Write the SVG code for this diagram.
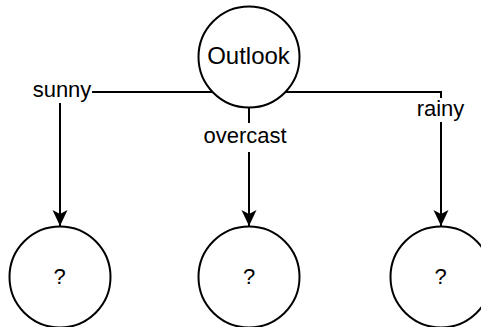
<svg xmlns="http://www.w3.org/2000/svg" width="481" height="327" viewBox="0 0 481 327">
  <style>
    .node circle { fill: #ffffff; stroke: #000000; stroke-width: 2; }
    .node text, .label { font-family: "Liberation Sans", Arial, sans-serif; font-size: 22px; fill: #000000; text-anchor: middle; }
    #node-outlook text { font-size: 24px; }
    .edge { fill: none; stroke: #000000; stroke-width: 2; }
  </style>
  <defs>
    <marker id="arrow" markerUnits="userSpaceOnUse" markerWidth="16" markerHeight="16" viewBox="0 0 16 16" refX="16" refY="8" orient="auto">
      <path d="M0,0.5 L16,8 L0,15.5 L4,8 Z" fill="#000000"/>
    </marker>
  </defs>
  <g id="connectors">
    <g id="edge-sunny">
      <path class="edge" d="M212.6,92 H92"/>
      <path class="edge" d="M60,103 V226" marker-end="url(#arrow)"/>
      <text class="label" x="62" y="97">sunny</text>
    </g>
    <g id="edge-overcast">
      <path class="edge" d="M249,108 V123"/>
      <path class="edge" d="M249,152 V226" marker-end="url(#arrow)"/>
      <text class="label" x="245" y="143">overcast</text>
    </g>
    <g id="edge-rainy">
      <path class="edge" d="M285.4,92 H441 V98"/>
      <path class="edge" d="M441,122 V226" marker-end="url(#arrow)"/>
      <text class="label" x="440.5" y="116">rainy</text>
    </g>
  </g>
  <g id="node-outlook" class="node">
    <circle cx="249" cy="57" r="50.5"/>
    <text x="248.5" y="64">Outlook</text>
  </g>
  <g id="node-sunny" class="node">
    <circle cx="60" cy="277" r="50.5"/>
    <text x="59.5" y="284">?</text>
  </g>
  <g id="node-overcast" class="node">
    <circle cx="249" cy="277" r="50.5"/>
    <text x="249" y="284">?</text>
  </g>
  <g id="node-rainy" class="node">
    <circle cx="441" cy="277" r="50.5"/>
    <text x="440.5" y="284">?</text>
  </g>
</svg>
